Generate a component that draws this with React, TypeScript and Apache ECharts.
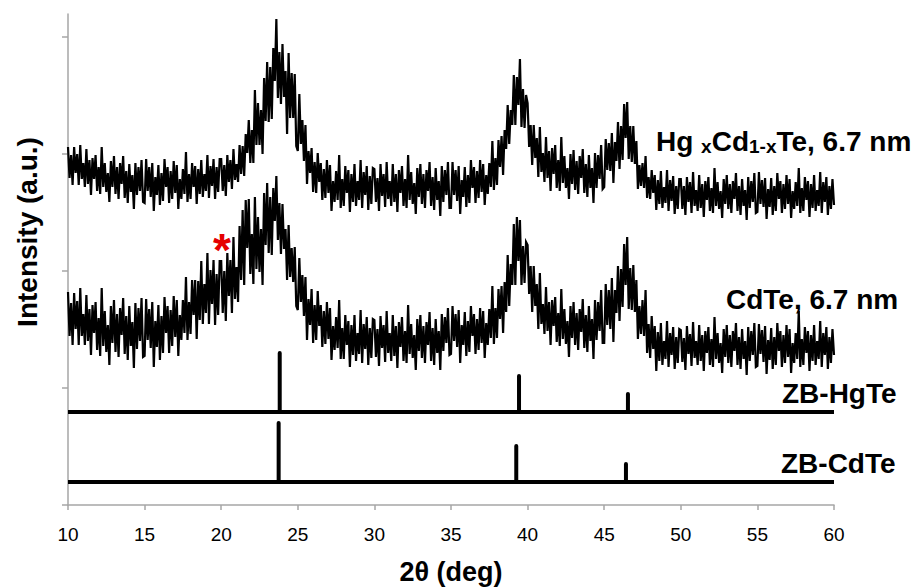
import React, { useEffect, useRef } from "react";
import * as echarts from "echarts";

// 2θ sampling of the measured patterns (deg)
const twoThetaStart = 10;
const twoThetaStep = 0.1;

// Hg_xCd_1-xTe, 6.7 nm pattern (a.u.), one row per degree (10.0 … 10.9, 11.0 …)
const hgcdteIntensity = [
  358, 327, 350, 320, 358, 332, 351, 320, 360, 326,
  342, 318, 356, 321, 345, 310, 347, 326, 350, 314,
  338, 311, 358, 318, 342, 313, 332, 303, 344, 318,
  349, 311, 338, 306, 342, 321, 349, 307, 334, 302,
  341, 313, 330, 296, 342, 310, 338, 314, 345, 303,
  302, 346, 314, 338, 308, 342, 294, 328, 310, 340,
  300, 332, 304, 346, 318, 338, 302, 334, 306, 344,
  312, 340, 296, 326, 306, 336, 311, 353, 303, 331,
  306, 342, 318, 339, 301, 336, 311, 345, 308, 331,
  314, 350, 307, 339, 319, 346, 306, 338, 313, 346,
  346, 314, 340, 309, 350, 323, 345, 316, 356, 325,
  341, 323, 360, 331, 359, 329, 371, 352, 385, 342,
  375, 342, 415, 360, 402, 360, 395, 351, 427, 384,
  443, 383, 438, 386, 457, 424, 486, 407, 453, 401,
  461, 408, 434, 371, 452, 387, 432, 387, 431, 359,
  354, 411, 361, 385, 344, 380, 321, 354, 332, 357,
  313, 343, 312, 352, 323, 342, 305, 336, 307, 345,
  312, 340, 294, 324, 303, 334, 305, 350, 297, 326,
  299, 339, 312, 335, 293, 331, 303, 341, 299, 324,
  305, 345, 297, 333, 310, 339, 295, 329, 301, 337,
  336, 303, 327, 294, 341, 309, 331, 298, 343, 306,
  324, 299, 341, 303, 331, 293, 335, 312, 339, 299,
  326, 297, 350, 305, 333, 301, 322, 291, 337, 308,
  341, 301, 331, 297, 335, 314, 343, 299, 328, 295,
  337, 305, 324, 289, 339, 303, 335, 310, 343, 297,
  297, 343, 310, 335, 304, 339, 291, 325, 308, 338,
  298, 330, 302, 345, 317, 338, 302, 334, 307, 345,
  313, 341, 300, 330, 311, 342, 318, 364, 315, 347,
  320, 365, 338, 369, 330, 375, 356, 400, 361, 395,
  380, 430, 380, 428, 400, 446, 378, 416, 377, 410,
  402, 358, 380, 340, 380, 347, 367, 328, 378, 333,
  352, 323, 368, 327, 354, 314, 357, 331, 360, 317,
  345, 314, 368, 322, 349, 317, 337, 306, 351, 321,
  355, 315, 344, 311, 349, 327, 356, 312, 341, 308,
  350, 317, 337, 302, 352, 317, 350, 326, 360, 316,
  318, 366, 335, 362, 334, 372, 322, 363, 344, 383,
  336, 379, 345, 401, 367, 403, 346, 379, 343, 379,
  341, 364, 316, 340, 319, 342, 317, 349, 307, 328,
  306, 335, 312, 330, 295, 325, 301, 334, 297, 318,
  302, 335, 294, 325, 304, 329, 291, 319, 296, 326,
  326, 296, 319, 290, 328, 303, 323, 292, 333, 299,
  315, 294, 330, 297, 321, 288, 324, 305, 328, 294,
  317, 292, 337, 299, 323, 296, 314, 287, 326, 301,
  330, 296, 321, 292, 324, 306, 332, 294, 319, 290,
  326, 299, 315, 285, 328, 297, 324, 303, 332, 292,
  293, 333, 301, 325, 298, 327, 286, 316, 298, 327,
  290, 319, 294, 332, 306, 324, 292, 321, 296, 330,
  301, 326, 287, 314, 296, 323, 299, 337, 292, 317,
  294, 328, 305, 324, 288, 321, 297, 330, 294, 315,
  299, 333, 292, 323, 303, 328, 290, 319, 296, 326,
  300,
];

// CdTe, 6.7 nm pattern (a.u.)
const cdteIntensity = [
  213, 169, 202, 160, 212, 176, 204, 160, 217, 169,
  191, 160, 210, 164, 196, 150, 200, 172, 203, 155,
  187, 149, 217, 159, 194, 153, 180, 140, 199, 162,
  205, 153, 191, 148, 197, 170, 207, 151, 189, 145,
  199, 159, 183, 137, 202, 156, 197, 164, 207, 148,
  149, 206, 165, 196, 157, 203, 138, 184, 158, 200,
  145, 189, 152, 208, 172, 199, 152, 195, 159, 209,
  168, 205, 149, 190, 165, 205, 172, 228, 165, 203,
  171, 225, 190, 225, 166, 224, 185, 244, 181, 221,
  192, 252, 181, 235, 201, 245, 180, 231, 190, 244,
  244, 192, 234, 184, 252, 209, 245, 192, 268, 206,
  238, 203, 279, 225, 295, 220, 305, 257, 306, 231,
  271, 221, 308, 236, 288, 233, 276, 220, 312, 260,
  322, 252, 308, 250, 317, 284, 329, 265, 302, 251,
  301, 256, 276, 225, 280, 228, 257, 223, 258, 199,
  195, 247, 203, 230, 189, 228, 165, 206, 180, 216,
  162, 200, 165, 214, 179, 200, 158, 194, 161, 203,
  166, 197, 145, 179, 155, 188, 157, 205, 146, 177,
  146, 190, 160, 184, 138, 180, 150, 190, 144, 172,
  151, 195, 142, 181, 156, 188, 140, 177, 147, 186,
  185, 148, 176, 139, 189, 157, 180, 143, 194, 152,
  172, 144, 190, 149, 179, 137, 183, 158, 188, 144,
  174, 142, 200, 151, 181, 147, 170, 135, 186, 154,
  190, 147, 179, 142, 183, 160, 193, 144, 177, 140,
  186, 152, 174, 135, 191, 154, 188, 162, 197, 150,
  151, 199, 164, 191, 158, 195, 142, 180, 160, 193,
  149, 184, 153, 199, 169, 191, 151, 186, 155, 197,
  162, 194, 147, 182, 160, 196, 167, 219, 161, 197,
  167, 216, 186, 219, 172, 223, 193, 250, 199, 241,
  220, 281, 220, 288, 244, 285, 220, 259, 222, 263,
  260, 211, 239, 193, 239, 199, 221, 176, 232, 181,
  201, 171, 218, 174, 203, 160, 205, 179, 208, 163,
  192, 159, 216, 166, 196, 161, 184, 148, 199, 167,
  203, 160, 192, 155, 196, 173, 206, 157, 190, 153,
  199, 164, 186, 146, 205, 165, 203, 174, 215, 162,
  162, 221, 180, 215, 176, 227, 163, 215, 192, 239,
  184, 236, 198, 261, 220, 268, 196, 237, 195, 240,
  193, 225, 166, 199, 171, 205, 169, 215, 152, 181,
  147, 189, 156, 179, 134, 173, 144, 182, 140, 164,
  146, 184, 138, 172, 150, 178, 136, 168, 142, 176,
  175, 143, 167, 135, 179, 151, 171, 139, 183, 147,
  164, 140, 180, 144, 170, 134, 174, 152, 178, 140,
  166, 138, 188, 146, 172, 142, 162, 132, 176, 148,
  180, 142, 170, 138, 174, 154, 182, 140, 168, 136,
  176, 146, 164, 130, 178, 144, 174, 150, 182, 138,
  139, 181, 151, 175, 143, 179, 131, 165, 145, 177,
  136, 168, 140, 182, 154, 174, 138, 170, 142, 180,
  148, 176, 132, 162, 142, 172, 146, 194, 138, 166,
  140, 178, 152, 174, 134, 170, 144, 180, 140, 164,
  146, 184, 138, 172, 150, 178, 136, 168, 142, 176,
  150,
];

// Reference stick patterns
const zbHgTePositions = [23.82, 39.44, 46.55];
const zbHgTeTops = [152, 129, 111];
const zbHgTeBaseline = 93;

const zbCdTePositions = [23.75, 39.26, 46.42];
const zbCdTeTops = [82, 59, 41];
const zbCdTeBaseline = 23;

const xMin = 10;
const xMax = 60;
const xInterval = 5;
const yMax = 491;
const yTickValues = [0, 117, 234, 351, 468];

const FONT = "'Liberation Sans', Arial, Helvetica, sans-serif";

export default function App() {
  const ref = useRef<HTMLDivElement>(null);

  useEffect(() => {
    if (!ref.current) return;
    const chart = echarts.init(ref.current, undefined, { renderer: "svg" });

    const toPairs = (arr: number[]) =>
      arr.map((v, i) => [twoThetaStart + i * twoThetaStep, v]);

    const traceSeries = (name: string, arr: number[]) => ({
      name,
      type: "line",
      data: toPairs(arr),
      showSymbol: false,
      symbol: "none",
      lineStyle: { color: "#000", width: 2.2, join: "miter" },
      z: 3,
    });

    const baselineSeries = (name: string, base: number) => ({
      name,
      type: "line",
      data: [
        [xMin, base],
        [xMax, base],
      ],
      showSymbol: false,
      symbol: "none",
      lineStyle: { color: "#000", width: 4, cap: "butt" },
      z: 2,
    });

    const stickSeries = (name: string, pos: number[], tops: number[], base: number) =>
      pos.map((p, i) => ({
        name: name + "-" + i,
        type: "line",
        data: [
          [p, base],
          [p, tops[i]],
        ],
        showSymbol: false,
        symbol: "none",
        lineStyle: { color: "#000", width: 4, cap: "round" },
        z: 2,
      }));

    const labelStyle = {
      fontFamily: FONT,
      fontWeight: "bold",
      fontSize: 28,
      fill: "#000",
    };

    chart.setOption({
      animation: false,
      backgroundColor: "#fff",
      grid: { left: 68, right: 80, top: 14, bottom: 83, containLabel: false },
      xAxis: {
        type: "value",
        min: xMin,
        max: xMax,
        interval: xInterval,
        axisLine: { show: true, lineStyle: { color: "#a6a6a6", width: 1.5 } },
        axisTick: { show: true, length: 5, lineStyle: { color: "#a6a6a6", width: 1.5 } },
        axisLabel: { color: "#000", fontSize: 19, fontFamily: FONT, margin: 20 },
        splitLine: { show: false },
      },
      yAxis: {
        type: "value",
        min: 0,
        max: yMax,
        axisLine: { show: true, lineStyle: { color: "#a6a6a6", width: 1.5 } },
        axisTick: {
          show: true,
          length: 6,
          customValues: yTickValues,
          lineStyle: { color: "#a6a6a6", width: 1.5 },
        },
        axisLabel: { show: false },
        splitLine: { show: false },
      },
      series: [
        traceSeries("HgxCd1-xTe, 6.7 nm", hgcdteIntensity),
        traceSeries("CdTe, 6.7 nm", cdteIntensity),
        baselineSeries("ZB-HgTe base", zbHgTeBaseline),
        ...stickSeries("ZB-HgTe", zbHgTePositions, zbHgTeTops, zbHgTeBaseline),
        baselineSeries("ZB-CdTe base", zbCdTeBaseline),
        ...stickSeries("ZB-CdTe", zbCdTePositions, zbCdTeTops, zbCdTeBaseline),
      ],
      graphic: [
        {
          type: "text",
          x: 656,
          y: 141,
          z: 10,
          style: {
            text: "{b|Hg }{s|x}{b|Cd}{s|1-x}{b|Te, 6.7 nm}",
            textAlign: "left",
            textVerticalAlign: "middle",
            rich: {
              b: { fontFamily: FONT, fontWeight: "bold", fontSize: 28, lineHeight: 30, color: "#000" },
              s: {
                fontFamily: FONT,
                fontWeight: "bold",
                fontSize: 19,
                lineHeight: 18,
                verticalAlign: "bottom",
                color: "#000",
              },
            },
          },
        },
        {
          type: "text",
          x: 726,
          y: 299,
          z: 10,
          style: { ...labelStyle, text: "CdTe, 6.7 nm", textAlign: "left", textVerticalAlign: "middle" },
        },
        {
          type: "text",
          x: 782,
          y: 393,
          z: 10,
          style: { ...labelStyle, text: "ZB-HgTe", textAlign: "left", textVerticalAlign: "middle" },
        },
        {
          type: "text",
          x: 781,
          y: 463,
          z: 10,
          style: { ...labelStyle, text: "ZB-CdTe", textAlign: "left", textVerticalAlign: "middle" },
        },
        {
          type: "text",
          x: 222,
          y: 250,
          z: 10,
          style: {
            text: "*",
            fontFamily: FONT,
            fontWeight: "bold",
            fontSize: 46,
            fill: "#e50000",
            textAlign: "center",
            textVerticalAlign: "middle",
          },
        },
        {
          type: "text",
          x: 27,
          y: 232,
          rotation: Math.PI / 2,
          z: 10,
          style: { ...labelStyle, text: "Intensity (a.u.)", textAlign: "center", textVerticalAlign: "middle" },
        },
        {
          type: "text",
          x: 451,
          y: 572,
          z: 10,
          style: { ...labelStyle, fontSize: 27, text: "2θ (deg)", textAlign: "center", textVerticalAlign: "middle" },
        },
      ],
    });

    return () => chart.dispose();
  }, []);

  return (
    <div
      ref={ref}
      style={{ position: "fixed", left: 0, top: 0, width: 914, height: 588, background: "#fff" }}
    />
  );
}
